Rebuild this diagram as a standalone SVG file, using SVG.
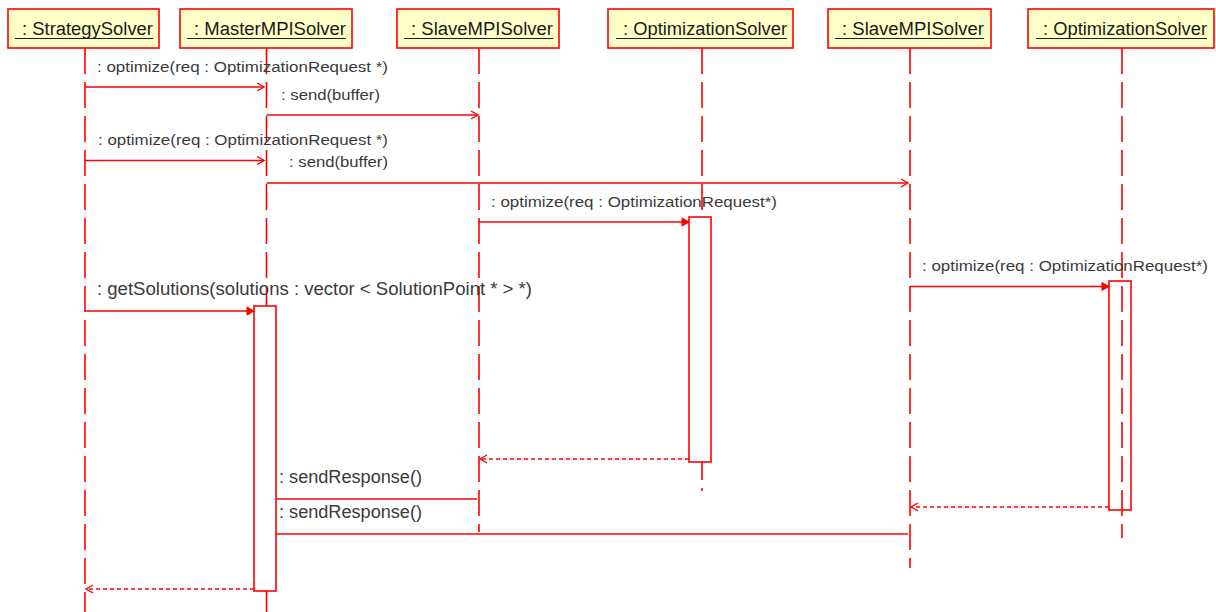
<svg xmlns="http://www.w3.org/2000/svg" width="1216" height="612" viewBox="0 0 1216 612">
  <style>
    .head { fill: #ffffc8; stroke: #ff0000; stroke-width: 1.6; }
    .hlabel { font-family: "Liberation Sans", Arial, sans-serif; font-size: 18px; fill: #1a1a1a; }
    .uline { stroke: #1a1a1a; stroke-width: 1.2; }
    .life { stroke: #ff0000; stroke-width: 1.6; stroke-dasharray: 26 8; fill: none; }
    .solid { stroke: #ff0000; stroke-width: 1.6; fill: none; }
    .act { fill: #ffffff; stroke: #ff0000; stroke-width: 1.6; }
    .msg { stroke: #ff0000; stroke-width: 1.5; fill: none; }
    .ret { stroke: #ff0000; stroke-width: 1.5; fill: none; stroke-dasharray: 4 3; }
    .small { font-family: "Liberation Sans", Arial, sans-serif; font-size: 14px; fill: #3a3a3a; }
    .big { font-family: "Liberation Sans", Arial, sans-serif; font-size: 18px; fill: #3a3a3a; }
  </style>
  <defs>
    <marker id="open" markerUnits="userSpaceOnUse" markerWidth="10" markerHeight="10" refX="8" refY="4.5" orient="auto" overflow="visible">
      <path d="M1,0.5 L8,4.5 L1,8.5" fill="none" stroke="#ff0000" stroke-width="1.4"/>
    </marker>
    <marker id="filled" markerUnits="userSpaceOnUse" markerWidth="10" markerHeight="10" refX="8" refY="4.5" orient="auto" overflow="visible">
      <path d="M1,0.5 L8,4.5 L1,8.5 z" fill="#ff0000" stroke="#ff0000" stroke-width="1"/>
    </marker>
  </defs>

  <rect width="1216" height="612" fill="#ffffff"/>

  <!-- lifeline: StrategySolver -->
  <g id="strategySolver">
    <line class="life" x1="85" y1="48" x2="85" y2="612"/>
    <rect class="head" x="8" y="9" width="151" height="39"/>
    <text class="hlabel" x="22" y="35" textLength="131" lengthAdjust="spacingAndGlyphs">: StrategySolver</text>
    <line class="uline" x1="15" y1="38.5" x2="153" y2="38.5"/>
  </g>

  <!-- lifeline: MasterMPISolver -->
  <g id="masterMPISolver">
    <line class="life" x1="266.5" y1="48" x2="266.5" y2="306"/>
    <line class="solid" x1="266.5" y1="591" x2="266.5" y2="612"/>
    <rect class="head" x="180" y="9" width="172" height="39"/>
    <text class="hlabel" x="194" y="35" textLength="152" lengthAdjust="spacingAndGlyphs">: MasterMPISolver</text>
    <line class="uline" x1="187" y1="38.5" x2="346" y2="38.5"/>
    <rect class="act" x="254" y="306" width="22" height="285"/>
  </g>

  <!-- lifeline: SlaveMPISolver (first) -->
  <g id="slaveMPISolver1">
    <line class="life" x1="479" y1="48" x2="479" y2="532"/>
    <rect class="head" x="397" y="9" width="162" height="39"/>
    <text class="hlabel" x="411" y="35" textLength="142" lengthAdjust="spacingAndGlyphs">: SlaveMPISolver</text>
    <line class="uline" x1="404" y1="38.5" x2="553" y2="38.5"/>
  </g>

  <!-- lifeline: OptimizationSolver (first) -->
  <g id="optimizationSolver1">
    <line class="life" x1="702" y1="48" x2="702" y2="217"/>
    <line class="solid" x1="702" y1="462" x2="702" y2="492" stroke-dasharray="18 8 3 10"/>
    <rect class="head" x="608" y="9" width="185" height="39"/>
    <text class="hlabel" x="623" y="35" textLength="164" lengthAdjust="spacingAndGlyphs">: OptimizationSolver</text>
    <line class="uline" x1="616" y1="38.5" x2="787" y2="38.5"/>
    <rect class="act" x="689" y="217" width="22" height="245"/>
  </g>

  <!-- lifeline: SlaveMPISolver (second) -->
  <g id="slaveMPISolver2">
    <line class="life" x1="910" y1="48" x2="910" y2="568"/>
    <rect class="head" x="828" y="9" width="163" height="39"/>
    <text class="hlabel" x="842" y="35" textLength="142" lengthAdjust="spacingAndGlyphs">: SlaveMPISolver</text>
    <line class="uline" x1="835" y1="38.5" x2="984" y2="38.5"/>
  </g>

  <!-- lifeline: OptimizationSolver (second) -->
  <g id="optimizationSolver2">
    <rect class="act" x="1109" y="281" width="22" height="229"/>
    <line class="life" x1="1122" y1="48" x2="1122" y2="538"/>
    <rect class="head" x="1028" y="9" width="186" height="39"/>
    <text class="hlabel" x="1043" y="35" textLength="164" lengthAdjust="spacingAndGlyphs">: OptimizationSolver</text>
    <line class="uline" x1="1036" y1="38.5" x2="1207" y2="38.5"/>
  </g>

  <!-- messages -->
  <g id="connectors">
    <line class="msg" x1="85" y1="87" x2="264" y2="87" marker-end="url(#open)"/>
    <text class="small" x="97" y="72" textLength="291" lengthAdjust="spacingAndGlyphs">: optimize(req : OptimizationRequest *)</text>

    <line class="msg" x1="266.5" y1="115" x2="478" y2="115" marker-end="url(#open)"/>
    <text class="small" x="281" y="100" textLength="99" lengthAdjust="spacingAndGlyphs">: send(buffer)</text>

    <line class="msg" x1="85" y1="160.5" x2="264" y2="160.5" marker-end="url(#open)"/>
    <text class="small" x="98" y="145" textLength="290" lengthAdjust="spacingAndGlyphs">: optimize(req : OptimizationRequest *)</text>

    <line class="msg" x1="266.5" y1="183" x2="908" y2="183" marker-end="url(#open)"/>
    <text class="small" x="289" y="167" textLength="99" lengthAdjust="spacingAndGlyphs">: send(buffer)</text>

    <line class="msg" x1="479" y1="222" x2="689" y2="222" marker-end="url(#filled)"/>
    <text class="small" x="491" y="207" textLength="286" lengthAdjust="spacingAndGlyphs">: optimize(req : OptimizationRequest*)</text>

    <line class="msg" x1="910" y1="286.5" x2="1109" y2="286.5" marker-end="url(#filled)"/>
    <text class="small" x="922" y="271" textLength="286" lengthAdjust="spacingAndGlyphs">: optimize(req : OptimizationRequest*)</text>

    <line class="msg" x1="85" y1="311" x2="254" y2="311" marker-end="url(#filled)"/>
    <text class="big" x="97" y="295" textLength="435" lengthAdjust="spacingAndGlyphs">: getSolutions(solutions : vector &lt; SolutionPoint * &gt; *)</text>

    <line class="ret" x1="689" y1="459" x2="480" y2="459" marker-end="url(#open)"/>

    <line class="msg" x1="276" y1="499" x2="477" y2="499"/>
    <text class="big" x="279" y="483" textLength="143" lengthAdjust="spacingAndGlyphs">: sendResponse()</text>

    <line class="ret" x1="1109" y1="507" x2="911" y2="507" marker-end="url(#open)"/>

    <line class="msg" x1="276" y1="534" x2="908" y2="534"/>
    <text class="big" x="279" y="518" textLength="143" lengthAdjust="spacingAndGlyphs">: sendResponse()</text>

    <line class="ret" x1="254" y1="589" x2="86" y2="589" marker-end="url(#open)"/>
  </g>
</svg>
